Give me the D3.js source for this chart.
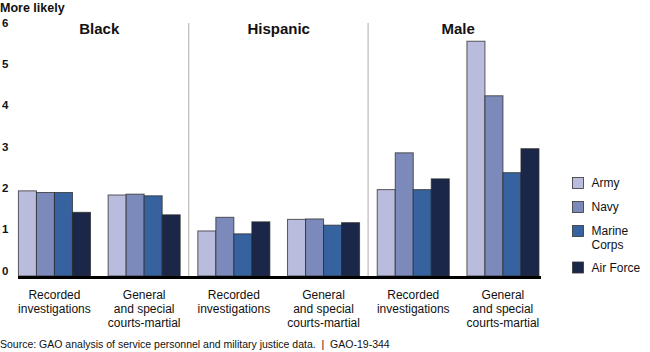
<!DOCTYPE html>
<html><head><meta charset="utf-8">
<script src="https://cdn.jsdelivr.net/npm/d3@7"></script>
<style>body{margin:0;background:#fff}svg{display:block;font-family:"Liberation Sans",Arial,sans-serif}</style>
</head><body><svg id="c" width="650" height="352"></svg>
<script>
const groups = ["Black", "Hispanic", "Male"];
const measures = ["Recorded\ninvestigations", "General\nand special\ncourts-martial"];
const services = ["Army", "Navy", "Marine Corps", "Air Force"];
const colors = ["#b9bcdc", "#7b8aba", "#36639f", "#1b2749"];
const army =     [2.06, 1.96, 1.09, 1.37, 2.09, 5.68];
const navy =     [2.02, 1.98, 1.42, 1.38, 2.98, 4.36];
const marine =   [2.02, 1.94, 1.02, 1.23, 2.09, 2.50];
const airforce = [1.54, 1.48, 1.31, 1.29, 2.35, 3.08];
const yTicks = [0, 1, 2, 3, 4, 5, 6];

const series = [army, navy, marine, airforce];
const cats = [];
groups.forEach(g => measures.forEach(m => cats.push(g + "|" + m)));

const svg = d3.select("#c");
const x = d3.scaleBand().domain(cats).range([9.6, 547.8]).paddingInner(0).paddingOuter(0);
const xs = d3.scaleBand().domain(services).range([0, x.bandwidth()]).paddingInner(0).paddingOuter(0.49);
const y = d3.scaleLinear().domain([0, 6]).range([276, 28]);

// separators
[1, 2].forEach(i => {
  const xx = x(cats[i * 2]) - 0.3;
  svg.append("line").attr("x1", xx).attr("x2", xx).attr("y1", 23).attr("y2", 276)
    .attr("stroke", "#bbbbbb").attr("stroke-width", 1.2);
});

// y tick labels
svg.append("g").selectAll("text").data(yTicks).join("text")
  .attr("x", 2).attr("y", d => y(d) - 1.5)
  .attr("font-size", 11.5).attr("font-weight", "bold").attr("fill", "#111")
  .text(d => d);

svg.append("text").attr("x", 0).attr("y", 12).attr("font-size", 12.5)
  .attr("font-weight", "bold").attr("fill", "#111").text("More likely");

// group titles
groups.forEach((g, i) => {
  const cx = (x(cats[i * 2]) + x(cats[i * 2 + 1]) + x.bandwidth()) / 2;
  svg.append("text").attr("x", cx).attr("y", 34).attr("text-anchor", "middle")
    .attr("font-size", 15).attr("font-weight", "bold").attr("fill", "#111").text(g);
});

// bars
series.forEach((vals, si) => {
  svg.append("g").selectAll("rect").data(vals).join("rect")
    .attr("x", (d, i) => x(cats[i]) + xs(services[si]))
    .attr("y", d => y(d))
    .attr("width", xs.bandwidth())
    .attr("height", d => y(0) - y(d))
    .attr("fill", colors[si])
    .attr("stroke", "#2a2a2a").attr("stroke-width", 1).attr("stroke-opacity", 0.75);
});

// baseline
svg.append("line").attr("x1", 18).attr("x2", 541).attr("y1", y(0) + 1.5).attr("y2", y(0) + 1.5)
  .attr("stroke", "#000").attr("stroke-width", 3);

// x labels
cats.forEach((c, i) => {
  const lines = measures[i % 2].split("\n");
  const t = svg.append("text").attr("text-anchor", "middle").attr("font-size", 12).attr("fill", "#111");
  lines.forEach((l, li) => {
    t.append("tspan").attr("x", x(c) + x.bandwidth() / 2).attr("y", 298.5 + li * 14.3).text(l);
  });
});

// legend
const lg = svg.append("g");
const legY = [183, 207, 231, 267.5];
services.forEach((s, i) => {
  lg.append("rect").attr("x", 572.5).attr("y", legY[i] - 5.5).attr("width", 11).attr("height", 11)
    .attr("fill", colors[i]).attr("stroke", "#333").attr("stroke-width", 0.8);
  const parts = s === "Marine Corps" ? ["Marine", "Corps"] : [s];
  parts.forEach((p, pi) => {
    lg.append("text").attr("x", 591.5).attr("y", legY[i] + 4.3 + pi * 13.7)
      .attr("font-size", 12).attr("fill", "#111").text(p);
  });
});

svg.append("text").attr("x", 0).attr("y", 348).attr("font-size", 10.5).attr("fill", "#111")
  .style("white-space", "pre")
  .text("Source: GAO analysis of service personnel and military justice data.  |  GAO-19-344");
</script></body></html>
